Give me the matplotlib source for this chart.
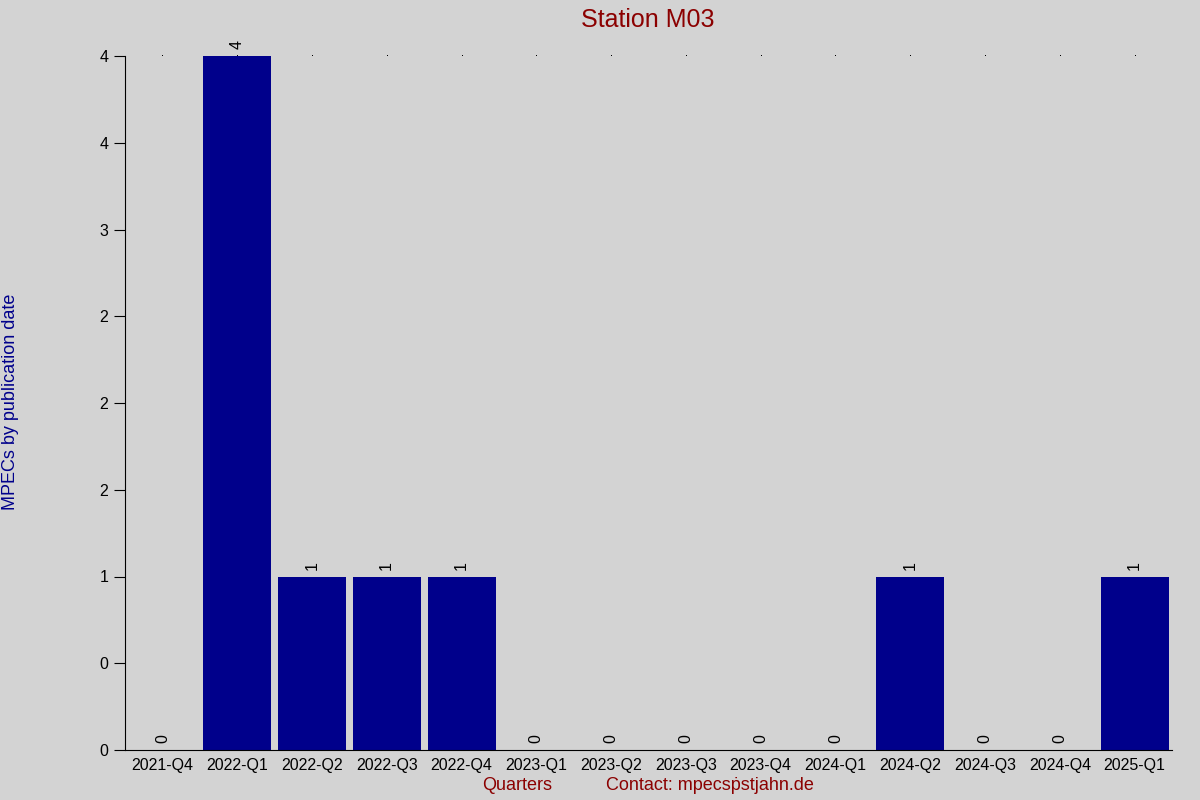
import numpy as np
import matplotlib
matplotlib.use('Agg')
import matplotlib.pyplot as plt

plt.rcParams['font.family'] = ['Liberation Sans', 'DejaVu Sans']

quarters = ['2021-Q4', '2022-Q1', '2022-Q2', '2022-Q3', '2022-Q4', '2023-Q1', '2023-Q2',
            '2023-Q3', '2023-Q4', '2024-Q1', '2024-Q2', '2024-Q3', '2024-Q4', '2025-Q1']
counts = [0, 4, 1, 1, 1, 0, 0, 0, 0, 0, 1, 0, 0, 1]
yticks = [0, 0.5, 1, 1.5, 2, 2.5, 3, 3.5, 4]

bg = '#d3d3d3'
fig = plt.figure(figsize=(12, 8), dpi=100, facecolor=bg)
ax = fig.add_axes([125/1200, 50/800, (1172-125)/1200, (750-56)/800], facecolor=bg)

x = np.arange(len(quarters))
ymax = max(counts)
# tiny markers along the top of the plot
ax.plot(x, [ymax]*len(x), linestyle='none', marker=',', color='black', clip_on=False, zorder=1)
ax.bar(x, counts, width=0.91, color='#00008b', zorder=2)

for xi, v in zip(x, counts):
    ax.text(xi, v + 0.04, str(v), rotation=90, ha='center', va='bottom', fontsize=11.5, zorder=3)

ax.set_xlim(-0.5, len(quarters) - 0.5)
ax.set_ylim(0, ymax)
ax.set_xticks(x)
ax.set_xticklabels(quarters, fontsize=11.5)
ax.tick_params(axis='x', length=0, pad=6)
ax.set_yticks(yticks)
ax.set_yticklabels(['%.0f' % round(t) for t in yticks], fontsize=11.5)
ax.tick_params(axis='y', length=8, direction='out', pad=4)

for s in ['top', 'right']:
    ax.spines[s].set_visible(False)

fig.text(0.54, 0.975, 'Station M03', color='#8b0000', fontsize=18, ha='center', va='center')
fig.text(11/1200, 0.4975, 'MPECs by publication date', color='#00008b', fontsize=13,
         rotation=90, ha='center', va='center')
fig.text(517/1200, 1 - 786/800, 'Quarters', color='#8b0000', fontsize=13, ha='center', va='center')
fig.text(710/1200, 1 - 786/800, 'Contact: mpecs\u1e57stjahn.de', color='#8b0000', fontsize=13,
         ha='center', va='center')

plt.savefig('out.png', dpi=100, facecolor=bg)
